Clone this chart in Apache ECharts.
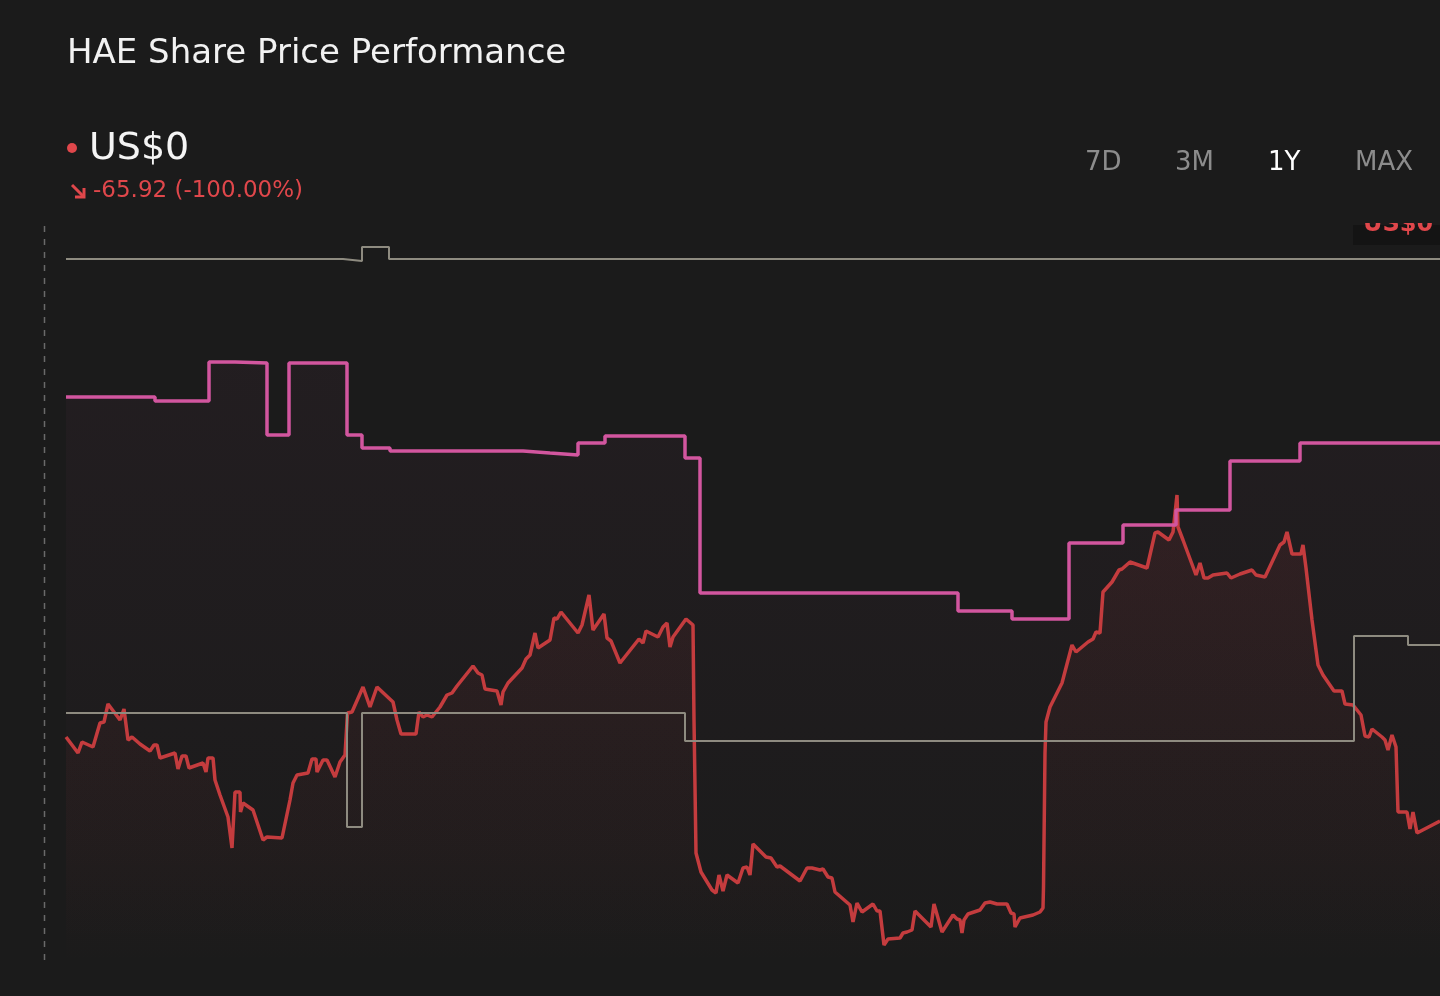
<!DOCTYPE html>
<html>
<head>
<meta charset="utf-8">
<title>HAE Share Price Performance</title>
<script src="https://cdn.jsdelivr.net/npm/echarts@6.0.0/dist/echarts.min.js"></script>
<style>
    html, body { margin: 0; padding: 0; background: #1b1b1b; }
    #main { width: 1440px; height: 996px; }
</style>
</head>
<body>
<div id="main"></div>
<script>
// share price (day index, US$)
var priceDays = [0, 2.4, 3.2, 5.4, 6.8, 7.6, 8.4, 10.8, 11.6, 12.4, 13.2, 14.8, 16.8, 17.6, 18.2, 18.8, 21.8, 22.4, 23.2, 24.0,
    24.6, 27.4, 28.0, 28.4, 29.4, 29.8, 30.8, 32.4, 33.2, 33.8, 34.8, 34.9, 35.4, 37.4, 39.4, 40.2, 43.2, 44.8, 45.2, 45.4,
    46.2, 48.4, 49.2, 50.0, 50.2, 51.4, 52.2, 53.8, 54.8, 55.8, 56.2, 56.3, 57.2, 59.4, 60.8, 62.2, 65.4, 66.2, 67.0, 70.0,
    70.6, 71.4, 72.2, 73.2, 74.8, 76.2, 77.2, 78.2, 81.4, 82.4, 83.2, 83.8, 86.2, 87.0, 87.4, 88.4, 91.2, 92.0, 92.8, 93.8,
    94.4, 96.8, 97.6, 98.2, 99.0, 102.4, 103.2, 104.6, 105.4, 107.6, 108.2, 109.0, 110.8, 114.6, 115.4, 116.0, 118.4, 119.4, 120.2, 120.8,
    121.4, 124.0, 125.4, 125.6, 126.0, 127.0, 127.4, 129.2, 130.0, 130.6, 131.4, 132.2, 134.4, 135.4, 136.2, 136.8, 137.4, 140.0, 141.0, 142.2,
    142.8, 146.8, 148.2, 149.2, 150.8, 151.4, 152.4, 153.2, 153.8, 156.8, 157.4, 158.2, 159.2, 161.4, 162.2, 162.8, 163.6, 164.4, 166.8, 167.4,
    168.2, 169.2, 169.8, 173.0, 173.6, 175.2, 177.4, 178.2, 178.8, 179.2, 179.6, 180.4, 182.8, 183.8, 184.8, 186.2, 188.2, 189.0, 189.6, 189.8,
    190.8, 193.4, 194.8, 195.4, 195.5, 195.8, 196.0, 196.8, 199.2, 201.2, 202.0, 204.4, 205.4, 206.0, 206.8, 207.4, 209.2, 210.6, 211.2, 212.8,
    216.2, 217.8, 218.4, 220.6, 221.4, 222.2, 222.4, 223.4, 226.0, 226.8, 227.6, 228.4, 229.4, 232.2, 233.0, 234.8, 237.2, 238.0, 239.8, 242.8,
    243.6, 244.2, 245.2, 247.0, 247.4, 248.0, 249.2, 250.4, 251.4, 253.6, 255.2, 255.8, 257.4, 259.0, 259.8, 260.6, 261.2, 263.2, 263.8, 264.4,
    265.2, 266.0, 266.4, 268.2, 268.8, 269.4, 270.2, 274.8];
var priceValues = [74.3, 72.7, 73.8, 73.3, 75.7, 75.8, 77.6, 76.0, 77.1, 74.0, 74.3, 73.6, 72.9, 73.5, 73.5, 72.2, 72.7, 71.1, 72.4, 72.4,
    71.2, 71.7, 70.8, 72.2, 72.2, 70.0, 68.5, 66.3, 63.2, 68.8, 68.8, 66.8, 67.7, 67.0, 64.0, 64.3, 64.2, 68.0, 68.0, 69.7,
    70.5, 70.7, 72.1, 72.1, 70.8, 72.0, 72.0, 70.3, 71.8, 72.5, 72.5, 76.7, 76.8, 79.3, 77.3, 79.3, 77.8, 76.0, 74.6, 74.6,
    76.8, 76.3, 76.5, 76.3, 77.3, 78.5, 78.7, 79.4, 81.4, 80.7, 80.5, 79.1, 78.9, 77.5, 78.8, 79.7, 81.2, 82.1, 82.5, 84.7,
    83.2, 84.0, 86.2, 86.1, 86.8, 84.7, 85.5, 88.5, 85.0, 86.6, 84.2, 83.9, 81.7, 84.1, 83.7, 84.9, 84.3, 85.3, 85.7, 83.3,
    84.3, 86.1, 85.5, 76.0, 62.7, 60.8, 60.7, 59.0, 58.7, 60.5, 58.9, 60.5, 59.7, 61.2, 61.3, 60.5, 63.6, 62.3, 62.2, 61.3,
    61.4, 59.9, 61.2, 61.2, 61.0, 61.1, 60.3, 60.2, 58.8, 57.5, 55.8, 57.7, 56.8, 57.6, 56.9, 56.9, 53.5, 54.1, 54.2, 54.7,
    54.8, 55.0, 56.9, 55.3, 57.6, 54.8, 56.5, 56.1, 56.0, 54.7, 56.0, 56.6, 57.0, 57.7, 57.8, 57.6, 57.6, 56.7, 56.6, 55.3,
    56.2, 56.5, 56.8, 57.2, 59.3, 72.7, 75.8, 77.3, 79.7, 83.5, 82.8, 83.8, 84.1, 84.8, 84.7, 88.8, 89.8, 91.0, 91.1, 91.8,
    91.2, 94.7, 94.8, 94.0, 94.8, 98.5, 95.3, 94.0, 90.5, 91.7, 90.2, 90.2, 90.5, 90.7, 90.2, 90.6, 91.0, 90.5, 90.3, 93.5,
    93.8, 94.8, 92.6, 92.6, 93.5, 91.2, 86.0, 81.5, 80.5, 78.9, 78.9, 77.6, 77.5, 76.5, 74.4, 74.3, 75.1, 74.3, 74.0, 73.0,
    74.5, 73.3, 66.8, 66.8, 65.1, 66.8, 64.7, 65.9];

// pink step line
var pinkDays = [0, 17.8, 28.6, 33.8, 40.2, 44.6, 56.2, 59.2, 64.8, 91.4, 96.8, 102.4, 107.8, 123.8, 126.8, 178.4, 189.2, 200.6, 211.4, 222.0, 232.8, 246.8, 274.8];
var pinkValues = [108.3, 107.9, 111.8, 111.7, 104.5, 111.7, 104.5, 103.2, 102.9, 102.7, 102.5, 103.7, 104.4, 102.2, 88.7, 86.9, 86.1, 93.7, 95.5, 97.0, 101.9, 103.7, 103.7];

// upper grey step line
var greyTopDays = [0, 55.4, 59.2, 64.6, 274.8];
var greyTopValues = [122.1, 121.9, 123.3, 122.1, 122.1];

// lower grey step line
var greyLowDays = [0, 56.2, 59.2, 123.8, 257.6, 268.4, 274.8];
var greyLowValues = [76.7, 65.3, 76.7, 73.9, 84.4, 83.5, 83.5];

var ranges = ['7D', '3M', '1Y', 'MAX'];
var rangeX = [1085, 1175, 1268, 1355];
var activeRange = '1Y';

var RED = '#c43c3e';
var TEXT_RED = '#e0474b';
var PINK = '#d2569f';
var GREY = '#8e8b80';
var FONT = 'DejaVu Sans';

function zip (xs, ys) {
    return xs.map(function (x, i) { return [x, ys[i]]; });
}

function buildHeader () {
    var els = [
        { type: 'text', left: 67, top: 37, style: { text: 'HAE Share Price Performance', fill: '#f2f2f2', font: '34px "' + FONT + '"' } },
        { type: 'circle', shape: { cx: 72, cy: 148, r: 5 }, style: { fill: TEXT_RED } },
        { type: 'text', left: 89, top: 130, style: { text: 'US$0', fill: '#f5f5f5', font: '38px "' + FONT + '"' } },
        { type: 'polyline', shape: { points: [[72, 185], [84, 197]] }, style: { stroke: TEXT_RED, lineWidth: 3 } },
        { type: 'polyline', shape: { points: [[84, 188], [84, 197], [75, 197]] }, style: { stroke: TEXT_RED, lineWidth: 3, fill: null } },
        { type: 'text', left: 93, top: 180, style: { text: '-65.92 (-100.00%)', fill: TEXT_RED, font: '23px "' + FONT + '"' } },
        // dashed crosshair on the left
        { type: 'line', shape: { x1: 44.5, y1: 226, x2: 44.5, y2: 966 }, style: { stroke: '#6a6a6a', lineWidth: 1.5, lineDash: [6, 7] } },
        // last price tag, cut off at the top
        { type: 'rect', shape: { x: 1353, y: 225, width: 90, height: 20 }, style: { fill: '#141414' } },
        { type: 'text', left: 1363, top: 213, style: { text: 'US$0', fill: TEXT_RED, font: 'bold 24px "' + FONT + '"' } },
        { type: 'rect', shape: { x: 1345, y: 195, width: 100, height: 28 }, style: { fill: '#1b1b1b' } }
    ];
    ranges.forEach(function (r, i) {
        els.push({
            type: 'text', left: rangeX[i], top: 150,
            style: { text: r, fill: r === activeRange ? '#ffffff' : '#8c8c8c', font: '26px "' + FONT + '"' }
        });
    });
    return els;
}

function initChart () {
    var chart = echarts.init(document.getElementById('main'));
    var option = {
        backgroundColor: '#1b1b1b',
        animation: false,
        grid: { left: 66, right: 0, top: 225, bottom: 31 },
        xAxis: { type: 'value', min: 0, max: 274.8, show: false },
        yAxis: { type: 'value', min: 51.5, max: 125.5, show: false },
        graphic: buildHeader(),
        series: [
            {
                name: 'HAE',
                type: 'line',
                symbol: 'none',
                data: zip(priceDays, priceValues),
                lineStyle: { color: RED, width: 3.5 },
                areaStyle: {
                    color: new echarts.graphic.LinearGradient(0, 0, 0, 1, [
                        { offset: 0, color: 'rgba(196,60,62,0.15)' },
                        { offset: 0.75, color: 'rgba(196,60,62,0.05)' },
                        { offset: 1, color: 'rgba(196,60,62,0)' }
                    ])
                }
            },
            {
                name: 'Market',
                type: 'line',
                step: 'end',
                symbol: 'none',
                data: zip(greyTopDays, greyTopValues),
                lineStyle: { color: GREY, width: 2 }
            },
            {
                name: 'Market low',
                type: 'line',
                step: 'end',
                symbol: 'none',
                data: zip(greyLowDays, greyLowValues),
                lineStyle: { color: GREY, width: 2 }
            },
            {
                name: 'Industry',
                type: 'line',
                step: 'end',
                symbol: 'none',
                data: zip(pinkDays, pinkValues),
                lineStyle: { color: PINK, width: 3.5 },
                areaStyle: {
                    color: new echarts.graphic.LinearGradient(0, 0, 0, 1, [
                        { offset: 0, color: 'rgba(210,86,159,0.06)' },
                        { offset: 1, color: 'rgba(210,86,159,0)' }
                    ])
                }
            }
        ]
    };
    chart.setOption(option);
    return chart;
}

var haeChart = initChart();
window.onresize = function () {
    haeChart.resize();
};
</script>
</body>
</html>
